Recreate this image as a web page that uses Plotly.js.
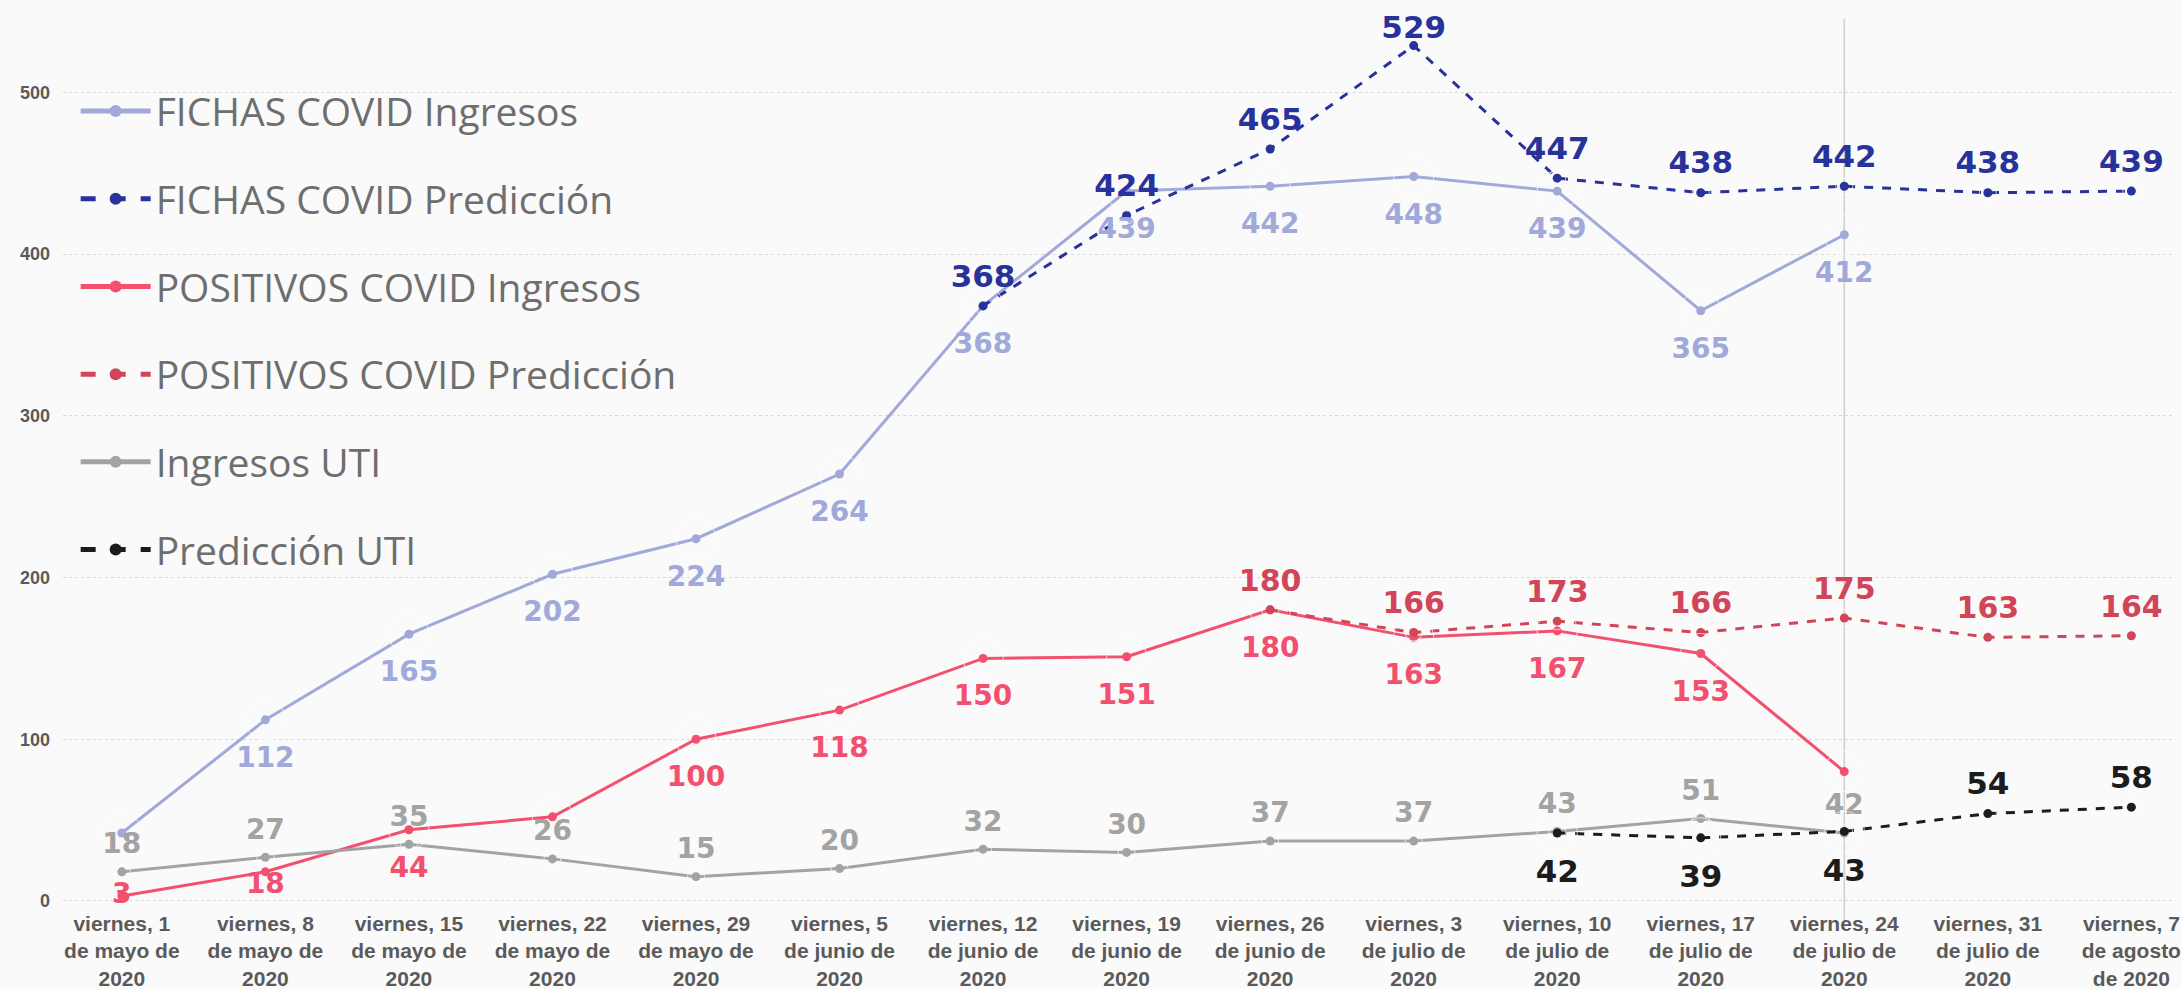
<!DOCTYPE html>
<html>
<head>
<meta charset="utf-8">
<script src="https://cdn.plot.ly/plotly-3.0.1.min.js"></script>
<style>html,body{margin:0;padding:0;background:#fafafa;}#chart{width:2181px;height:989px;}</style>
</head>
<body>
<div id="chart"></div>
<script>
// ---- data ----
const categories = [
  "viernes, 1<br>de mayo de<br>2020",
  "viernes, 8<br>de mayo de<br>2020",
  "viernes, 15<br>de mayo de<br>2020",
  "viernes, 22<br>de mayo de<br>2020",
  "viernes, 29<br>de mayo de<br>2020",
  "viernes, 5<br>de junio de<br>2020",
  "viernes, 12<br>de junio de<br>2020",
  "viernes, 19<br>de junio de<br>2020",
  "viernes, 26<br>de junio de<br>2020",
  "viernes, 3<br>de julio de<br>2020",
  "viernes, 10<br>de julio de<br>2020",
  "viernes, 17<br>de julio de<br>2020",
  "viernes, 24<br>de julio de<br>2020",
  "viernes, 31<br>de julio de<br>2020",
  "viernes, 7<br>de agosto<br>de 2020"
];
const fichasIngresos   = [42, 112, 165, 202, 224, 264, 368, 439, 442, 448, 439, 365, 412, null, null];
const fichasPrediccion = [null, null, null, null, null, null, 368, 424, 465, 529, 447, 438, 442, 438, 439];
const positivosIngresos   = [3, 18, 44, 52, 100, 118, 150, 151, 180, 163, 167, 153, 80, null, null];
const positivosPrediccion = [null, null, null, null, null, null, null, null, 180, 166, 173, 166, 175, 163, 164];
const ingresosUTI   = [18, 27, 35, 26, 15, 20, 32, 30, 37, 37, 43, 51, 42, null, null];
const prediccionUTI = [null, null, null, null, null, null, null, null, null, null, 42, 39, 43, 54, 58];
// points whose value label is not shown in the original
const hiddenFichasIngresosLabels = [0];
const hiddenPositivosIngresosLabels = [3, 12];
const yTicks = [0, 100, 200, 300, 400, 500];
const cutoffCategory = categories[12];

function labels(vals, hidden) {
  hidden = hidden || [];
  return vals.map((v, i) => (v === null || hidden.indexOf(i) >= 0) ? "" : String(v));
}

const LABEL_FAMILY = "DejaVu Sans, Verdana, sans-serif";
const TOP_PAD = 17, BOTTOM_PAD = 40;   // invisible marker sizes used to push labels away from points

function series(name, vals, color, dash, group) {
  return {
    type: "scatter", mode: "lines+markers", name: name,
    x: categories, y: vals,
    line: {color: color, width: 3, dash: dash},
    marker: {color: color, size: 9},
    legendgroup: group, cliponaxis: false, hoverinfo: "x+y"
  };
}
function labelTrace(vals, color, positions, hidden, size, group, tight) {
  const pos = Array.isArray(positions) ? positions.slice() : vals.map(() => positions);
  tight = tight || {};
  const pads = pos.map((p, i) => (i in tight) ? 0 : (p.indexOf("top") === 0 ? TOP_PAD : BOTTOM_PAD));
  Object.keys(tight).forEach(k => { if (tight[k]) pos[k] = tight[k]; });
  return {
    type: "scatter", mode: "markers+text", showlegend: false, legendgroup: group,
    x: categories, y: vals,
    text: labels(vals, hidden), textposition: pos,
    textfont: {family: LABEL_FAMILY, size: size, color: color, weight: "bold"},
    marker: {color: "rgba(0,0,0,0)", size: pads},
    cliponaxis: false, hoverinfo: "skip"
  };
}

const C_FI = "#a1a9db", C_FP = "#27329a", C_PI = "#f2506e", C_PP = "#d24558", C_UI = "#a3a3a3", C_UP = "#1c1c1c";
const utiPredPos = prediccionUTI.map(v => (v !== null && v >= 50) ? "top center" : "bottom center");

const traces = [
  series("FICHAS COVID Ingresos", fichasIngresos, C_FI, "solid", "g1"),
  series("FICHAS COVID Predicción", fichasPrediccion, C_FP, "dash", "g2"),
  series("POSITIVOS COVID Ingresos", positivosIngresos, C_PI, "solid", "g3"),
  series("POSITIVOS COVID Predicción", positivosPrediccion, C_PP, "dash", "g4"),
  series("Ingresos UTI", ingresosUTI, C_UI, "solid", "g5"),
  series("Predicción UTI", prediccionUTI, C_UP, "dash", "g6"),
  labelTrace(fichasIngresos, C_FI, "bottom center", hiddenFichasIngresosLabels, 28, "g1"),
  labelTrace(fichasPrediccion, C_FP, "top center", [], 31, "g2", {9: ""}),
  labelTrace(positivosIngresos, C_PI, "bottom center", hiddenPositivosIngresosLabels, 28, "g3", {0: "middle center", 1: ""}),
  labelTrace(positivosPrediccion, C_PP, "top center", [], 30, "g4"),
  labelTrace(ingresosUTI, C_UI, "top center", [], 28, "g5"),
  labelTrace(prediccionUTI, C_UP, utiPredPos, [], 31, "g6")
];

const layout = {
  width: 2181, height: 989,
  paper_bgcolor: "#fafafa", plot_bgcolor: "#fafafa",
  margin: {l: 63, r: 8, t: 10, b: 80},
  showlegend: true,
  legend: {
    x: 0.006, y: 0.923, xanchor: "left", yanchor: "top",
    traceorder: "grouped", tracegroupgap: 34,
    font: {family: "Open Sans, Noto Sans, sans-serif", size: 39, color: "#6e6e6e"},
    bgcolor: "rgba(0,0,0,0)", itemsizing: "constant", itemwidth: 70
  },
  xaxis: {
    type: "category", range: [-0.41, 14.29],
    showgrid: false, zeroline: false, showline: false,
    tickfont: {family: "Liberation Sans, Arial, sans-serif", size: 21, color: "#5a5a5a", weight: "bold"},
    ticks: "", fixedrange: true
  },
  yaxis: {
    range: [-5, 551], tickvals: yTicks,
    showgrid: true, gridcolor: "#d9d9d9", griddash: "dot", gridwidth: 1,
    zeroline: false, showline: false,
    tickfont: {family: "Liberation Sans, Arial, sans-serif", size: 18, color: "#5a5a5a", weight: "bold"},
    ticklabelstandoff: 12
  },
  shapes: [{
    type: "line", xref: "x", yref: "paper",
    x0: cutoffCategory, x1: cutoffCategory, y0: -0.012, y1: 0.99,
    line: {color: "#cfcfcf", width: 1.5}, layer: "below"
  }],
  font: {family: "Liberation Sans, Arial, sans-serif"}
};

Plotly.newPlot("chart", traces, layout, {displayModeBar: false, staticPlot: true});
</script>
</body>
</html>
